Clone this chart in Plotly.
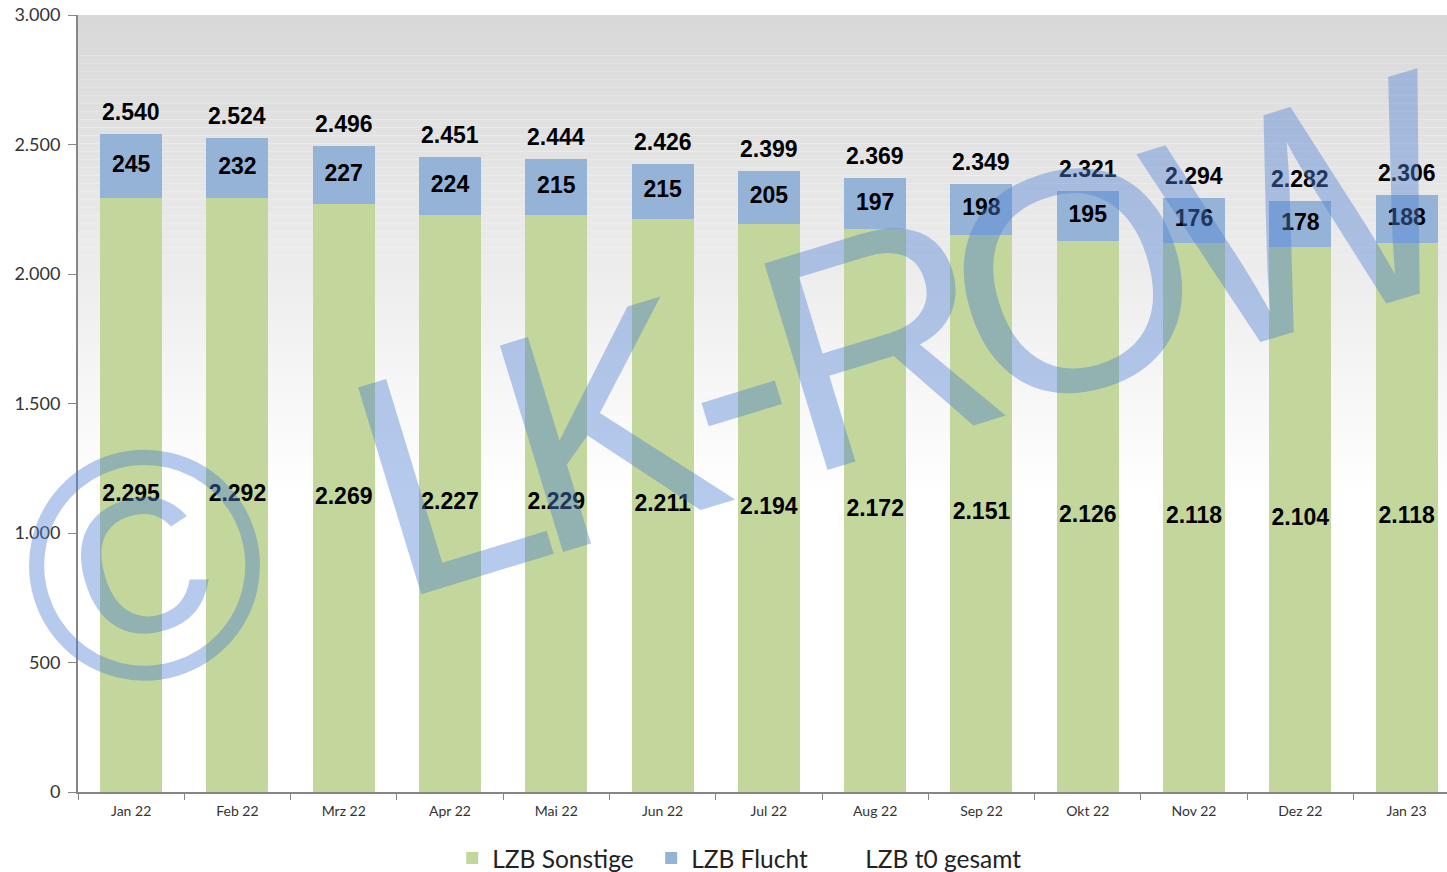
import plotly.graph_objects as go

months = ["Jan 22", "Feb 22", "Mrz 22", "Apr 22", "Mai 22", "Jun 22", "Jul 22",
          "Aug 22", "Sep 22", "Okt 22", "Nov 22", "Dez 22", "Jan 23"]
sonstige = [2295, 2292, 2269, 2227, 2229, 2211, 2194, 2172, 2151, 2126, 2118, 2104, 2118]
flucht = [245, 232, 227, 224, 215, 215, 205, 197, 198, 195, 176, 178, 188]
gesamt = [2540, 2524, 2496, 2451, 2444, 2426, 2399, 2369, 2349, 2321, 2294, 2282, 2306]

GREEN = "#c3d69b"
BLUE = "#95b3d7"
LBL = dict(family="Liberation Sans, Arial, sans-serif", size=23, color="black")
NBSP = "\u00a0"


def de(v):
    return f"{v:,}".replace(",", ".")


fig = go.Figure()
fig.add_trace(go.Bar(x=months, y=sonstige, name="LZB Sonstige" + NBSP * 2, marker_color=GREEN,
                     marker_line_width=0))
fig.add_trace(go.Bar(x=months, y=flucht, name="LZB Flucht" + NBSP * 2, marker_color=BLUE,
                     marker_line_width=0))
# Total series (invisible line, legend only)
fig.add_trace(go.Scatter(x=months, y=gesamt, name="LZB t0 gesamt", mode="lines",
                         line=dict(color="rgba(0,0,0,0)", width=0), hoverinfo="skip"))
# Segment labels
fig.add_trace(go.Scatter(x=months, y=[s / 2 for s in sonstige], mode="text",
                         text=[f"<b>{de(v)}</b>" for v in sonstige],
                         textfont=LBL, showlegend=False, hoverinfo="skip"))
fig.add_trace(go.Scatter(x=months, y=[s + f / 2 for s, f in zip(sonstige, flucht)], mode="text",
                         text=[f"<b>{v}</b>" for v in flucht],
                         textfont=LBL, showlegend=False, hoverinfo="skip"))

for m, g in zip(months, gesamt):
    fig.add_annotation(x=m, y=g, text=f"<b>{de(g)}</b>", showarrow=False,
                       yanchor="bottom", yshift=7, font=LBL)

# background gradient
shapes = []
n = 60
top_c = (216, 216, 216)
for i in range(n):
    y0 = 1 - (i + 1) / n * 0.62
    y1 = 1 - i / n * 0.62
    t = (i + 0.5) / n
    c = tuple(int(round(tc + (255 - tc) * t)) for tc in top_c)
    shapes.append(dict(type="rect", xref="paper", yref="y domain", x0=0, x1=1.02, y0=y0, y1=y1,
                       fillcolor=f"rgb{c}", line_width=0, layer="below"))

fig.update_layout(
    width=1447, height=872,
    margin=dict(l=78, r=0, t=15, b=80, autoexpand=False),
    paper_bgcolor="white", plot_bgcolor="white",
    barmode="stack", bargap=0.417,
    separators=",.",
    shapes=shapes,
    font=dict(family="Lato, sans-serif", color="#333333"),
    showlegend=True,
    legend=dict(orientation="h", x=0.483, xanchor="center", y=-0.085, yanchor="middle",
                font=dict(size=24.5, color="#222222"), bgcolor="rgba(0,0,0,0)",
                itemwidth=30, traceorder="normal"),
    xaxis=dict(range=[-0.5, 12.38], showline=True, linecolor="#868686", linewidth=2,
               ticks="outside", tickson="boundaries", ticklen=6, tickcolor="#868686",
               ticklabelstandoff=5, tickfont=dict(size=14, color="#333333"),
               showgrid=False, automargin=False),
    yaxis=dict(range=[0, 3000], dtick=500, tickformat=",d", showline=True,
               linecolor="#868686", linewidth=2, ticks="outside", ticklen=8,
               ticklabelstandoff=4,
               tickcolor="#868686", tickfont=dict(size=18, color="#333333"),
               showgrid=False, zeroline=False, automargin=False),
)

# watermark, one glyph at a time
WM = "rgba(79,129,209,0.42)"
NARROW = "Liberation Sans Narrow, Arial Narrow, Liberation Sans, sans-serif"
glyphs = [("©", 0.0489, 0.2922, 327, "Liberation Sans, Arial, sans-serif"),
          ("L", 0.2703, 0.4118, 314, NARROW),
          ("K", 0.3857, 0.4723, 314, NARROW),
          ("-", 0.4792, 0.5315, 314, NARROW),
          ("R", 0.5858, 0.5817, 314, NARROW),
          ("O", 0.7268, 0.6589, 314, NARROW),
          ("W", 0.8999, 0.7439, 314, NARROW)]
for ch, gx, gy, sz, fam in glyphs:
    fig.add_annotation(text=ch, xref="paper", yref="paper", x=gx, y=gy, showarrow=False,
                       textangle=-17, xanchor="center", yanchor="middle",
                       font=dict(family=fam, size=sz, color=WM))

fig.write_html("out.html", config={"displayModeBar": False},
               post_script="document.body.style.margin='0px';")
